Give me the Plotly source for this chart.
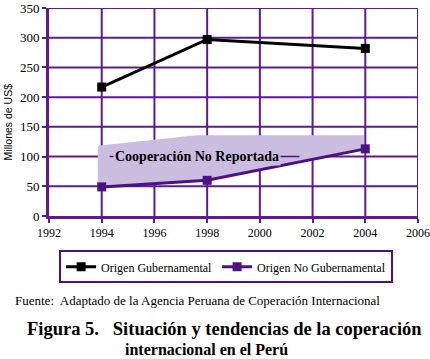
import plotly.graph_objects as go

# ---- data ----
years = [1994, 1998, 2004]
gubernamental = [217, 297, 282]
no_gubernamental = [49, 60, 113]

# band "Cooperación No Reportada": upper edge and lower edge
shade_upper_x = [1993.85, 1997.6, 2003.95]
shade_upper_y = [118, 136, 136]
shade_lower_x = [2003.95, 1998, 1993.85]
shade_lower_y = [113, 60, 49]

x_ticks = [1992, 1994, 1996, 1998, 2000, 2002, 2004, 2006]
y_ticks = [0, 50, 100, 150, 200, 250, 300, 350]

GRID = "#5e1a92"
PURPLE = "#4b1283"
SHADE = "#cbbde0"
SERIF = "Liberation Serif"

fig = go.Figure()

# grid lines drawn from the tick arrays (below traces)
for xv in x_ticks[1:]:
    fig.add_shape(type="line", xref="x", yref="paper", x0=xv, x1=xv, y0=0, y1=1,
                  line=dict(color=GRID, width=2), layer="below")
for yv in y_ticks[1:]:
    fig.add_shape(type="line", xref="paper", yref="y", x0=0, x1=1, y0=yv, y1=yv,
                  line=dict(color=GRID, width=2), layer="below")

fig.add_trace(go.Scatter(
    x=shade_upper_x + shade_lower_x,
    y=shade_upper_y + shade_lower_y,
    fill="toself", fillcolor=SHADE, mode="lines",
    line=dict(width=0, color=SHADE), showlegend=False, hoverinfo="skip"))

fig.add_trace(go.Scatter(
    x=years, y=gubernamental, name="Origen Gubernamental",
    mode="lines+markers", line=dict(color="black", width=3),
    marker=dict(symbol="square", size=9, color="black")))

fig.add_trace(go.Scatter(
    x=years, y=no_gubernamental, name="Origen No Gubernamental",
    mode="lines+markers", line=dict(color=PURPLE, width=3),
    marker=dict(symbol="square", size=9, color=PURPLE)))

# leader line for the band label
fig.add_shape(type="line", x0=1994.3, x1=2001.5, y0=100, y1=100,
              line=dict(color=PURPLE, width=1.5), layer="above")
fig.add_annotation(x=1997.6, y=100, text="<b>Cooperación No Reportada</b>",
                   showarrow=False, bgcolor=SHADE, borderpad=1,
                   font=dict(family=SERIF, size=14, color="black"))

fig.update_xaxes(range=[1992, 2006], tickvals=x_ticks,
                 ticktext=[str(v) for v in x_ticks],
                 showgrid=False,
                 showline=True, linecolor=GRID, linewidth=3,
                 ticks="outside", ticklen=4, tickcolor=GRID, tickwidth=2,
                 ticklabeloverflow="allow",
                 tickfont=dict(family=SERIF, size=12, color="black"),
                 zeroline=False, fixedrange=True)
fig.update_yaxes(range=[0, 350], tickvals=y_ticks,
                 showgrid=False,
                 showline=True, linecolor=GRID, linewidth=3,
                 ticks="outside", ticklen=4, tickcolor=GRID, tickwidth=2,
                 ticklabeloverflow="allow",
                 tickfont=dict(family=SERIF, size=13, color="black"),
                 zeroline=False, fixedrange=True)

# y-axis title
fig.add_annotation(xref="paper", yref="paper", x=-0.111, y=0.45,
                   xanchor="center", yanchor="middle",
                   text="Millones de US$", textangle=-90, showarrow=False,
                   font=dict(family="Liberation Sans", size=10.5, color="black"))

# source and caption
fig.add_annotation(xref="paper", yref="paper", x=-0.0976, y=-0.404,
                   xanchor="left", yanchor="middle", showarrow=False,
                   text="Fuente:  Adaptado de la Agencia Peruana de Coperación Internacional",
                   font=dict(family=SERIF, size=13, color="black"))
fig.add_annotation(xref="paper", yref="paper", x=-0.065, y=-0.545,
                   xanchor="left", yanchor="middle", showarrow=False,
                   text="<b>Figura 5.&nbsp;&nbsp; Situación y tendencias de la coperación</b>",
                   font=dict(family=SERIF, size=18.5, color="black"))
fig.add_annotation(xref="paper", yref="paper", x=0.428, y=-0.64,
                   xanchor="center", yanchor="middle", showarrow=False,
                   text="<b>internacional en el Perú</b>",
                   font=dict(family=SERIF, size=16, color="black"))

fig.update_layout(
    width=430, height=359,
    margin=dict(l=49, r=12, t=8, b=143, autoexpand=False),
    plot_bgcolor="white", paper_bgcolor="white",
    showlegend=True,
    legend=dict(orientation="h", x=0.48, xanchor="center",
                y=-0.165, yanchor="top",
                bordercolor=PURPLE, borderwidth=2, bgcolor="white",
                itemwidth=30, tracegroupgap=0,
                font=dict(family=SERIF, size=12, color="black")),
)

fig.write_html("out.html", config={"displayModeBar": False},
               post_script="document.body.style.margin='0';")
